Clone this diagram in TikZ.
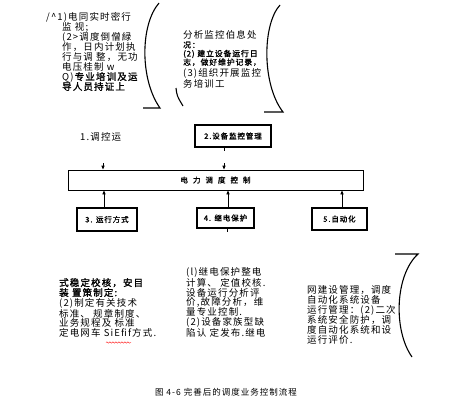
\documentclass[tikz,border=0pt]{standalone}
\usepackage{fontspec}
\setmainfont{Noto Sans CJK SC}[LetterSpace=12,BoldFont={Noto Sans CJK SC},BoldFeatures={FakeBold=1.6}]
\usepackage{tikz}
\usetikzlibrary{arrows.meta,decorations.pathmorphing}
\tikzset{ctrlbox/.style={draw,line width=1.1pt,inner sep=0pt,font=\bfseries\fontsize{7.5}{8}\selectfont},
 flow/.style={-{Triangle[length=4pt,width=3.2pt]},line width=0.9pt},
 note/.style={anchor=north west,align=left,inner sep=0pt,font=\fontsize{9.5}{9.9}\selectfont},
 brace/.style={line width=1.1pt}}

\begin{document}
\begin{tikzpicture}[x=1pt,y=-1pt]
\useasboundingbox (0,0) rectangle (457,401);
% upper notes and brackets
\node[note] (runnote) at (62,12.5) {\hspace*{-16pt}/\textasciicircum1)电同实时密行\\ 监 视;\\ (2>调度倒僧緑\\ 作，日内计划执\\ 行与调 整，无功\\ 电压桂制 w\\ Q)\textbf{专业培训及运}\\ \textbf{导人员持证上}};
\node[note,anchor=west] (monhead) at (183,35) {分析监控伯息处};
\node[note,font=\bfseries\fontsize{7.8}{8.6}\selectfont] (monlog) at (183,41.5) {况：\\ (2) 建立设备运行日\\ 志，做好维护记录，};
\node[note,anchor=west] (montrain) at (183,73.5) {(3)组织开展监控};
\node[note,anchor=west] (montrain2) at (183,83.5) {务培训工};
\draw[brace] (143,108)--(160,108) .. controls (140,80) and (140,25) .. (159,3);
\draw[brace] (176,88) .. controls (177,96) .. (183,106);
\draw[brace] (264,112)--(283,112) .. controls (262,85) and (262,25) .. (280,5);
% control blocks
\node[note,anchor=west] (lbl1) at (80,137) {1.调控运};
\node[ctrlbox,minimum width=76pt,minimum height=22pt] (monbox) at (233,136) {2.设备监控管理};
\node[ctrlbox,line width=0.9pt,minimum width=295pt,minimum height=20pt] (main) at (215.5,180) {电\hspace{5pt}力\hspace{5pt}调\hspace{5pt}度\hspace{5pt}控\hspace{5pt}制};
\node[ctrlbox,minimum width=60pt,minimum height=23pt] (modebox) at (107,219.5) {3. 运行方式};
\node[ctrlbox,minimum width=57pt,minimum height=20pt] (relaybox) at (225.5,218) {4. 继电保护};
\node[ctrlbox,minimum width=55pt,minimum height=22pt] (autobox) at (339.5,219) {5.自动化};
\coordinate (s1) at (103,163);
\coordinate (s2) at (224,163);
\draw[flow] (s1)--(s1 |- main.north);
\draw[flow] (s2)--(s2 |- main.north);
\draw[line width=0.9pt] ([xshift=-9pt]monbox.south)--++(0,3);
\draw[line width=0.9pt] ([xshift=2pt]relaybox.south)--++(0,3);
\draw[flow] ([xshift=-3pt]modebox.north)--([xshift=-3pt]modebox.north |- main.south);
\draw[flow] ([xshift=2.5pt]relaybox.north)--([xshift=2.5pt]relaybox.north |- main.south);
\draw[flow] ([xshift=2.5pt]autobox.north)--([xshift=2.5pt]autobox.north |- main.south);
% lower notes
\node[note] (modenote) at (59,278) {\textbf{式稳定校核，安目}\\ \textbf{装 置策制定:}\\ (2)制定有关技术\\ 标准、 规章制度、\\ 业务规程及 标准\\ 定电网车 SiEfif方式.};
\draw[red,decorate,decoration={snake,amplitude=0.7pt,segment length=3pt}] (106,342.5)--(131,342.5);
\node[note] (relaynote) at (186,267) {(l)继电保护整电\\ 计算、 定值校核.\\ 设备运行分析评\\ 价,故障分析，维\\ 量专业控制.\\ (2)设备家族型缺\\ 陷认 定发布.继电};
\node[note] (autonote) at (307,285) {网建设管理，调度\\ 自动化系统设备\\ 运行管理：(2)二次\\ 系统安全防护，调\\ 度自动化系统和设\\ 运行评价.};
\draw[brace] (395,254)--(418,254) .. controls (395,275) and (393,330) .. (412,357);
\node[font=\fontsize{8.5}{9}\selectfont] (caption) at (226,392) {图 4-6 完善后的调度业务控制流程};
\end{tikzpicture}
\end{document}
